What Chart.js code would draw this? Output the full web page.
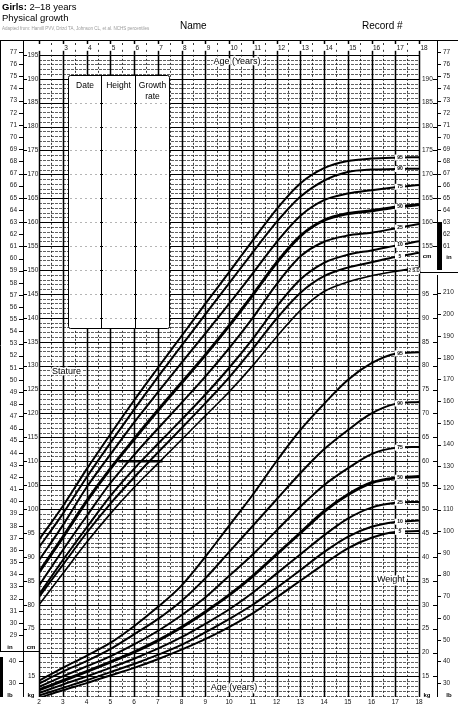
<!DOCTYPE html>
<html>
<head>
<meta charset="utf-8">
<script src="https://cdn.jsdelivr.net/npm/chart.js@4.4.1/dist/chart.umd.min.js"></script>
<style>
html, body { margin: 0; padding: 0; background: #fff; }
#growth { display: block; }
</style>
</head>
<body>
<canvas id="growth" width="458" height="707"></canvas>
<script>
// ages on the x axis (years)
var ages = [2, 3, 4, 5, 6, 7, 8, 9, 10, 11, 12, 13, 14, 15, 16, 17, 18];

// stature percentiles, cm
var stature95 = [93.6, 100.6, 108.3, 115.6, 122.7, 129.5, 136.2, 142.9, 149.5, 156.2, 162.7, 168.1, 171.3, 172.8, 173.3, 173.5, 173.6];
var stature90 = [92.0, 99.0, 106.6, 113.8, 120.8, 127.6, 134.2, 140.7, 147.2, 153.7, 160.0, 165.3, 168.7, 170.5, 171.0, 171.1, 171.2];
var stature75 = [89.3, 96.6, 104.5, 111.4, 118.1, 124.4, 130.6, 136.7, 142.9, 149.3, 155.8, 161.3, 164.6, 166.0, 166.7, 167.3, 167.8];
var stature50 = [86.8, 94.1, 101.6, 108.4, 114.6, 120.6, 126.4, 132.2, 138.3, 144.8, 151.5, 157.1, 160.4, 161.8, 162.4, 163.1, 163.7];
var stature25 = [84.0, 91.4, 98.5, 105.4, 111.3, 116.8, 122.2, 127.7, 133.6, 140.0, 147.0, 152.8, 155.9, 157.2, 157.8, 158.7, 159.6];
var stature10 = [82.1, 89.3, 96.1, 102.7, 108.4, 113.6, 118.7, 123.9, 129.5, 135.6, 142.3, 148.0, 151.5, 153.2, 154.1, 155.1, 156.0];
var stature5  = [81.6, 88.3, 95.0, 101.1, 106.6, 111.8, 116.9, 122.1, 127.5, 133.5, 139.8, 145.2, 148.7, 150.5, 151.6, 152.7, 153.6];
var statureMinus2SD = [80.0, 86.5, 93.0, 99.0, 104.5, 109.5, 114.5, 119.5, 124.5, 130.0, 136.0, 141.5, 145.5, 147.5, 148.8, 149.7, 150.5];

// weight percentiles, kg
var weight95 = [14.1, 16.8, 19.3, 22.0, 25.5, 29.5, 34.0, 40.0, 46.5, 53.0, 60.0, 66.5, 72.0, 77.0, 80.5, 82.5, 82.8];
var weight90 = [13.5, 16.0, 18.2, 20.7, 23.8, 27.0, 30.8, 35.5, 41.0, 46.5, 52.0, 57.5, 62.5, 66.5, 70.0, 72.0, 72.4];
var weight75 = [12.8, 15.0, 17.1, 19.2, 21.7, 24.5, 27.8, 31.5, 36.0, 40.5, 45.5, 50.5, 55.0, 58.5, 61.5, 62.8, 63.0];
var weight50 = [12.2, 14.1, 16.0, 18.0, 20.1, 22.5, 25.3, 28.5, 32.0, 36.0, 40.5, 45.0, 49.5, 53.0, 55.5, 56.5, 56.8];
var weight25 = [11.5, 13.3, 15.0, 16.8, 18.7, 20.8, 23.2, 26.0, 29.0, 32.5, 36.5, 40.5, 44.5, 48.0, 50.3, 51.3, 51.5];
var weight10 = [11.0, 12.6, 14.2, 15.9, 17.6, 19.5, 21.6, 24.2, 27.0, 30.0, 33.5, 37.2, 41.0, 44.2, 46.3, 47.3, 47.6];
var weight5  = [10.5, 12.1, 13.6, 15.2, 16.8, 18.6, 20.6, 22.8, 25.3, 28.2, 31.5, 35.0, 38.5, 41.8, 44.0, 45.2, 45.4];

// the short growth-rate mark drawn at 110 cm
var markAges = [5.35, 7.2];
var markStature = [110, 110];

// tick labels
function range(a, b, step) {
  var out = [];
  for (var v = a; v <= b + 1e-9; v += step) out.push(v);
  return out;
}
var yearTicks = range(2, 18, 1);
var cmLeftTicks = range(75, 195, 5);
var inLeftTicks = range(29, 77, 1);
var cmRightTicks = range(155, 190, 5);
var inRightTicks = range(61, 77, 1);
var kgRightTicks = range(15, 95, 5);
var lbRightTicks = range(30, 210, 10);
var kgLeftTicks = [15];
var lbLeftTicks = [30, 40];

var FONT = '"Liberation Sans", Arial, sans-serif';

function pts(values, xs) {
  return values.map(function (v, i) { return { x: (xs || ages)[i], y: v }; });
}
function curve(label, values, axis, width) {
  return {
    label: label,
    data: pts(values),
    yAxisID: axis,
    borderColor: '#000',
    borderWidth: width,
    pointRadius: 0,
    fill: false,
    cubicInterpolationMode: 'monotone'
  };
}

var datasets = [
  curve('95', stature95, 'y', 2),
  curve('90', stature90, 'y', 2),
  curve('75', stature75, 'y', 2),
  curve('50', stature50, 'y', 3),
  curve('25', stature25, 'y', 2),
  curve('10', stature10, 'y', 2),
  curve('5', stature5, 'y', 2),
  curve('-2 S.D.', statureMinus2SD, 'y', 1.6),
  curve('95', weight95, 'yKg', 2),
  curve('90', weight90, 'yKg', 2),
  curve('75', weight75, 'yKg', 2),
  curve('50', weight50, 'yKg', 3),
  curve('25', weight25, 'yKg', 2),
  curve('10', weight10, 'yKg', 2),
  curve('5', weight5, 'yKg', 2),
  { label: 'mark', data: pts(markStature, markAges), yAxisID: 'y', borderColor: '#000', borderWidth: 2.5, pointRadius: 0 }
];

function hline(ctx, x1, x2, y) { ctx.beginPath(); ctx.moveTo(x1, y); ctx.lineTo(x2, y); ctx.stroke(); }
function vline(ctx, x, y1, y2) { ctx.beginPath(); ctx.moveTo(x, y1); ctx.lineTo(x, y2); ctx.stroke(); }
function txt(ctx, s, x, y, font, align, color, halo) {
  ctx.font = font;
  ctx.textAlign = align || 'left';
  ctx.textBaseline = 'middle';
  if (halo) {
    ctx.strokeStyle = '#fff';
    ctx.lineWidth = 3;
    ctx.lineJoin = 'round';
    ctx.strokeText(s, x, y);
  }
  ctx.fillStyle = color || '#000';
  ctx.fillText(s, x, y);
}
function valueAt(values, age) {
  for (var i = 0; i < ages.length - 1; i++) {
    if (age >= ages[i] && age <= ages[i + 1]) {
      var f = (age - ages[i]) / (ages[i + 1] - ages[i]);
      return values[i] + f * (values[i + 1] - values[i]);
    }
  }
  return values[values.length - 1];
}

var paper = {
  id: 'paper',
  beforeDraw: function (chart) {
    var ctx = chart.ctx, a = chart.chartArea;
    var xs = chart.scales.x, ys = chart.scales.y;
    var rowTop = ys.getPixelForValue(195);
    ctx.save();
    ctx.fillStyle = '#fff';
    ctx.fillRect(0, 0, chart.width, chart.height);

    // horizontal grid, one line per cm (kg)
    for (var v = 61; v <= 195; v++) {
      var py = Math.round(ys.getPixelForValue(v)) + 0.5;
      if (v % 5 === 0) { ctx.setLineDash([]); ctx.strokeStyle = '#000'; ctx.lineWidth = 1; }
      else { ctx.setLineDash([3, 1]); ctx.strokeStyle = '#3a3a3a'; ctx.lineWidth = 0.8; }
      hline(ctx, a.left, a.right, py);
    }
    // vertical grid, years and half years
    for (var t = 2; t <= 18; t += 0.5) {
      var px = Math.round(xs.getPixelForValue(t)) + 0.5;
      if (t % 1 === 0) {
        ctx.setLineDash([]); ctx.strokeStyle = '#000'; ctx.lineWidth = 1.5;
        vline(ctx, px, rowTop, a.bottom);
        vline(ctx, px, a.top, a.top + 4);
        vline(ctx, px, rowTop - 4, rowTop);
      } else {
        ctx.setLineDash([2, 2]); ctx.strokeStyle = '#222'; ctx.lineWidth = 0.9;
        vline(ctx, px, rowTop, a.bottom);
        ctx.setLineDash([]);
        vline(ctx, px, a.top + 3, a.top + 5);
        vline(ctx, px, rowTop - 5, rowTop - 3);
      }
    }
    ctx.setLineDash([]);

    // top age row
    yearTicks.forEach(function (yr) {
      if (yr === 2) return;
      var px = xs.getPixelForValue(yr);
      txt(ctx, String(yr), px + 1.5, (a.top + rowTop) / 2 + 1, '6.5px ' + FONT, 'left', '#111');
    });

    // frame lines
    ctx.strokeStyle = '#000';
    ctx.lineWidth = 1;
    hline(ctx, 0, chart.width, a.top + 0.5);
    vline(ctx, 0.5, a.top, 651);
    vline(ctx, 23.5, a.top, a.bottom);
    hline(ctx, 0, a.left, 651.5);
    vline(ctx, 437.5, a.top, 262);
    hline(ctx, a.right, chart.width, 272.5);
    vline(ctx, 437.5, 275, a.bottom);
    ctx.fillStyle = '#000';
    ctx.fillRect(437, 222, 5, 48);
    ctx.fillRect(0, 657, 3, 40);

    // record table box
    ctx.fillStyle = '#fff';
    ctx.strokeStyle = '#000';
    ctx.lineWidth = 1;
    ctx.beginPath();
    ctx.roundRect(68.5, 75.5, 101, 253, 2);
    ctx.fill();
    ctx.stroke();
    vline(ctx, 101.5, 75.5, 328.5);
    vline(ctx, 135.5, 75.5, 328.5);
    for (var r = 185; r >= 140; r -= 5) {
      var ry = Math.round(ys.getPixelForValue(r)) + 0.5;
      ctx.setLineDash([2, 3]);
      ctx.strokeStyle = '#b5b5b5';
      hline(ctx, 70, 168, ry);
      ctx.setLineDash([]);
      ctx.strokeStyle = '#000';
      hline(ctx, 100, 103, ry);
      hline(ctx, 134, 137, ry);
    }
    txt(ctx, 'Date', 85, 86, '8.5px ' + FONT, 'center');
    txt(ctx, 'Height', 118.5, 86, '8.5px ' + FONT, 'center');
    txt(ctx, 'Growth', 152.5, 86, '8.5px ' + FONT, 'center');
    txt(ctx, 'rate', 152.5, 97, '8.5px ' + FONT, 'center');
    ctx.restore();
  },
  afterDatasetsDraw: function (chart) {
    var ctx = chart.ctx, a = chart.chartArea;
    var xs = chart.scales.x, ys = chart.scales.y, yk = chart.scales.yKg;
    var small = '6.5px ' + FONT;
    ctx.save();

    // percentile tags at the right end of each curve
    var tagAge = 17.2;
    var tx = xs.getPixelForValue(tagAge);
    chart.data.datasets.forEach(function (ds) {
      if (ds.label === 'mark') return;
      var vals = ds.data.map(function (p) { return p.y; });
      var scale = ds.yAxisID === 'y' ? ys : yk;
      var py = scale.getPixelForValue(valueAt(vals, tagAge));
      if (ds.label === '-2 S.D.') {
        ctx.fillStyle = '#fff';
        ctx.fillRect(408, py - 3, 12, 6);
        txt(ctx, '-2 S.D.', 414, py, 'bold 4.5px ' + FONT, 'center', '#222');
        return;
      }
      ctx.fillStyle = '#fff';
      ctx.fillRect(tx - 5, py - 3, 10, 6);
      txt(ctx, ds.label, tx, py, 'bold 5px ' + FONT, 'center', '#000');
    });

    // titles
    ctx.font = 'bold 9.5px ' + FONT;
    ctx.textBaseline = 'middle';
    ctx.textAlign = 'left';
    ctx.fillStyle = '#000';
    ctx.fillText('Girls:', 2, 7);
    var w = ctx.measureText('Girls: ').width;
    txt(ctx, '2\u201318 years', 2 + w, 7, '9.5px ' + FONT, 'left');
    txt(ctx, 'Physical growth', 2, 18, '9.5px ' + FONT, 'left');
    txt(ctx, 'Adapted from: Hamill PVV, Drizd TA, Johnson CL, et al. NCHS percentiles', 2, 29, '4.5px ' + FONT, 'left', '#9a9a9a');
    txt(ctx, 'Name', 180, 26, '10px ' + FONT, 'left');
    txt(ctx, 'Record #', 362, 26, '10px ' + FONT, 'left');

    // chart captions
    txt(ctx, 'Age (Years)', 237, 62, '9px ' + FONT, 'center', '#000', true);
    txt(ctx, 'Stature', 52, 372, '9px ' + FONT, 'left', '#000', true);
    txt(ctx, 'Weight', 377, 580, '9px ' + FONT, 'left', '#000', true);
    txt(ctx, 'Age (years)', 234, 688, '9px ' + FONT, 'center', '#000', true);

    // x tick labels under the grid
    yearTicks.forEach(function (yr) {
      txt(ctx, String(yr), xs.getPixelForValue(yr), 702, small, 'center', '#111');
    });

    ctx.strokeStyle = '#000';
    ctx.lineWidth = 1;
    // left stature scales
    inLeftTicks.forEach(function (v) {
      var py = ys.getPixelForValue(v * 2.54);
      hline(ctx, 19, 23.5, Math.round(py) + 0.5);
      txt(ctx, String(v), 17, py, small, 'right', '#222');
    });
    cmLeftTicks.forEach(function (v) {
      var py = ys.getPixelForValue(v);
      hline(ctx, 23.5, 27, Math.round(py) + 0.5);
      txt(ctx, String(v), 27.5, py, small, 'left', '#222');
    });
    txt(ctx, 'in', 10, 647, 'bold 6px ' + FONT, 'center');
    txt(ctx, 'cm', 31, 647, 'bold 6px ' + FONT, 'center');
    // left weight scales
    lbLeftTicks.forEach(function (v) {
      var py = yk.getPixelForValue(v / 2.2046);
      hline(ctx, 19, 23.5, Math.round(py) + 0.5);
      txt(ctx, String(v), 16, py, small, 'right', '#222');
    });
    kgLeftTicks.forEach(function (v) {
      var py = yk.getPixelForValue(v);
      txt(ctx, String(v), 28, py, small, 'left', '#222');
    });
    txt(ctx, 'lb', 10, 695, 'bold 6px ' + FONT, 'center');
    txt(ctx, 'kg', 31, 695, 'bold 6px ' + FONT, 'center');

    // right stature scales
    cmRightTicks.forEach(function (v) {
      var py = ys.getPixelForValue(v);
      hline(ctx, 433, 437.5, Math.round(py) + 0.5);
      txt(ctx, String(v), 422, py, small, 'left', '#222');
    });
    inRightTicks.forEach(function (v) {
      var py = ys.getPixelForValue(v * 2.54);
      hline(ctx, 437.5, 441, Math.round(py) + 0.5);
      txt(ctx, String(v), 443, py, small, 'left', '#222');
    });
    txt(ctx, 'cm', 427, 256, 'bold 6px ' + FONT, 'center');
    txt(ctx, 'in', 449, 257, 'bold 6px ' + FONT, 'center');
    // right weight scales
    kgRightTicks.forEach(function (v) {
      var py = yk.getPixelForValue(v);
      hline(ctx, 433, 437.5, Math.round(py) + 0.5);
      txt(ctx, String(v), 422, py, small, 'left', '#222');
    });
    lbRightTicks.forEach(function (v) {
      var py = yk.getPixelForValue(v / 2.2046);
      hline(ctx, 437.5, 441, Math.round(py) + 0.5);
      txt(ctx, String(v), 443, py, small, 'left', '#222');
    });
    txt(ctx, 'kg', 427, 695, 'bold 6px ' + FONT, 'center');
    txt(ctx, 'lb', 449, 695, 'bold 6px ' + FONT, 'center');
    ctx.restore();
  }
};

new Chart(document.getElementById('growth').getContext('2d'), {
  type: 'line',
  data: { datasets: datasets },
  options: {
    responsive: false,
    animation: false,
    devicePixelRatio: 1,
    layout: { padding: { left: 39, right: 39, top: 40, bottom: 10 } },
    plugins: { legend: { display: false }, tooltip: { enabled: false }, title: { display: false } },
    scales: {
      x: { type: 'linear', min: 2, max: 18, display: false },
      y: { type: 'linear', min: 60.7, max: 198.1, display: false },
      yKg: { type: 'linear', min: 10.7, max: 148.1, display: false }
    }
  },
  plugins: [paper]
});
</script>
</body>
</html>
